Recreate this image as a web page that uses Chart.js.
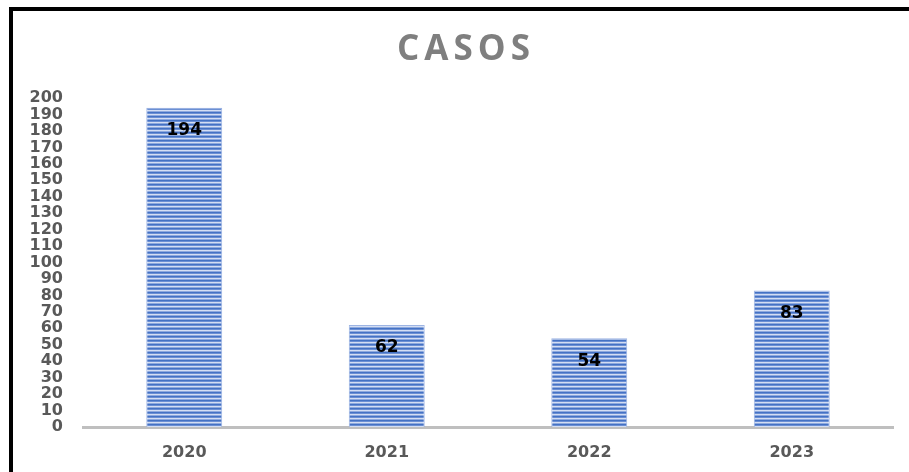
<!DOCTYPE html>
<html>
<head>
<meta charset="utf-8">
<script src="https://cdn.jsdelivr.net/npm/chart.js@4"></script>
<style>
  html, body { margin: 0; padding: 0; background: #fff; }
  #wrap { width: 909px; height: 472px; position: relative; }
</style>
</head>
<body>
<div id="wrap"><canvas id="casos"></canvas></div>
<script>
var years = ['2020', '2021', '2022', '2023'];
var casos = [194, 62, 54, 83];
var yTicks = [0, 10, 20, 30, 40, 50, 60, 70, 80, 90, 100, 110, 120, 130, 140, 150, 160, 170, 180, 190, 200];

// striped blue fill like the original
var pc = document.createElement('canvas');
pc.width = 4; pc.height = 4;
var pctx = pc.getContext('2d');
var rows = ['#4472c4', '#6b8fd4', '#d3def3', '#8ea9de'];
rows.forEach(function (c, i) { pctx.fillStyle = c; pctx.fillRect(0, i, 4, 1); });
var stripes = pctx.createPattern(pc, 'repeat');

var framePlugin = {
    id: 'frame',
    beforeDraw: function (chart) {
        var ctx = chart.ctx;
        ctx.save();
        ctx.fillStyle = '#000';
        ctx.fillRect(9, 7, 900, 4);
        ctx.fillRect(9, 7, 4, 465);
        // title
        ctx.fillStyle = '#7f7f7f';
        ctx.font = 'bold 35px "Open Sans"';
        ctx.letterSpacing = '5px';
        ctx.textAlign = 'center';
        ctx.textBaseline = 'middle';
        ctx.fillText('CASOS', 466, 50);
        ctx.restore();
    }
};

var labelPlugin = {
    id: 'barLabels',
    afterDatasetsDraw: function (chart) {
        var ctx = chart.ctx;
        var meta = chart.getDatasetMeta(0);
        ctx.save();
        ctx.fillStyle = '#000';
        ctx.font = 'bold 17px "DejaVu Sans"';
        ctx.textAlign = 'center';
        ctx.textBaseline = 'middle';
        meta.data.forEach(function (bar, i) {
            ctx.fillText(String(casos[i]), bar.x, bar.y + 23);
        });
        ctx.restore();
    }
};

new Chart(document.getElementById('casos'), {
    type: 'bar',
    data: {
        labels: years,
        datasets: [{
            label: 'CASOS',
            data: casos,
            backgroundColor: stripes,
            borderColor: '#9db4e3',
            borderWidth: 1,
            barPercentage: 0.75,
            categoryPercentage: 0.5
        }]
    },
    options: {
        responsive: true,
        maintainAspectRatio: false,
        animation: false,
        layout: { padding: { left: 13, right: 16, top: 98, bottom: 0 } },
        plugins: {
            legend: { display: false },
            tooltip: { enabled: false }
        },
        scales: {
            x: {
                grid: { display: false, drawTicks: false },
                border: { display: true, color: '#bfbfbf', width: 3 },
                ticks: {
                    color: '#595959',
                    font: { family: 'DejaVu Sans', size: 16, weight: 'bold' },
                    padding: 16
                },
                afterFit: function (s) { s.height = 45; }
            },
            y: {
                min: 0,
                max: 200,
                grid: { display: false, drawTicks: false },
                border: { display: false },
                afterBuildTicks: function (s) {
                    s.ticks = yTicks.map(function (v) { return { value: v }; });
                },
                ticks: {
                    autoSkip: false,
                    color: '#595959',
                    font: { family: 'DejaVu Sans', size: 16, weight: 'bold' },
                    padding: 20
                },
                afterFit: function (s) { s.width = 70; }
            }
        }
    },
    plugins: [framePlugin, labelPlugin]
});
</script>
</body>
</html>
